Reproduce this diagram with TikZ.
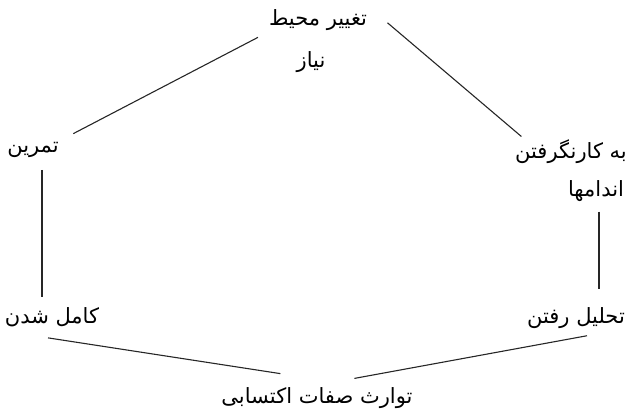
\documentclass[tikz,border=0pt]{standalone}
\usepackage{fontspec}
\newfontfamily\arabicfont[Script=Arabic]{DejaVu Sans}
\TeXXeTstate=1
\usepackage{tikz}
\usetikzlibrary{positioning}

\begin{document}
\begin{tikzpicture}[x=1pt, y=-1pt,
    term/.style={inner sep=2pt, font=\arabicfont\fontsize{21}{24}\selectfont},
    link/.style={line width=1.1pt, black!85}]
    \useasboundingbox (0,0) rectangle (627,417);

    \node[term] (taghyir) at (318,20) {\beginR تغییر محیط\endR};
    \node[term] (niaz) at (311,62) {\beginR نیاز\endR};

    \node[term] (tamrin) at (33,150) {\beginR تمرین\endR};
    \node[term] (kamel) at (52,317) {\beginR کامل شدن\endR};

    \node[term] (bekar) at (571,152) {\beginR به کارنگرفتن\endR};
    \node[term] (andamha) at (596,191) {\beginR اندامها\endR};
    \node[term] (tahlil) at (576,318) {\beginR تحلیل رفتن\endR};

    \node[term] (tavaros) at (317,398) {\beginR توارث صفات اکتسابی\endR};

    \draw[link, shorten <=14pt, shorten >=10pt] (tamrin.north east) -- (taghyir.south west);
    \draw[link, shorten <=24pt, shorten >=2pt] (taghyir.north east) -- ([xshift=10pt]bekar.north west);
    \draw[link, shorten <=10pt, shorten >=8pt] ([xshift=9pt]tamrin.south) -- ([xshift=9pt]tamrin.south |- kamel.north);
    \draw[link, shorten <=8pt, shorten >=16pt] ([xshift=3pt]andamha.south) -- ([xshift=3pt]andamha.south |- tahlil.north);
    \draw[link, shorten >=37pt] ([xshift=-4pt, yshift=-9pt]kamel.south) -- ([yshift=6pt]tavaros.north);
    \draw[link, shorten <=38pt] (tavaros.north) -- ([xshift=11pt, yshift=-5pt]tahlil.south);
\end{tikzpicture}
\end{document}
